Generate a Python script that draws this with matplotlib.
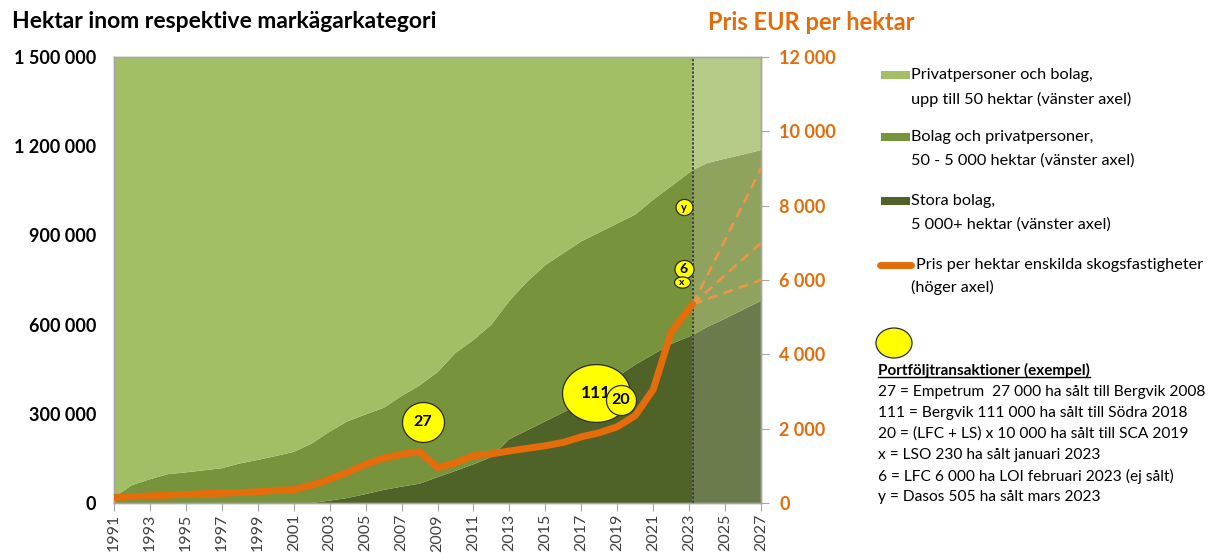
import numpy as np
import matplotlib.pyplot as plt
from matplotlib.path import Path
from matplotlib.patches import Rectangle, Ellipse
from matplotlib.lines import Line2D
from matplotlib.ticker import FuncFormatter

plt.rcParams['font.family'] = ['Lato', 'DejaVu Sans']

# Historik, tusen hektar per kategori (sista punkten = mars 2023)
years = list(range(1991, 2023)) + [2023.2]
privat_kha = [1480, 1440, 1420, 1403, 1397, 1390, 1383, 1367, 1355, 1342, 1328, 1300,
              1260, 1225, 1202, 1180, 1140, 1105, 1060, 995, 952, 900,
              820, 755, 700, 660, 620, 590, 560, 530, 480, 435, 380]
bolag_kha = [20, 60, 80, 97, 103, 110, 117, 133, 145, 158, 172, 200,
             232, 258, 268, 276, 305, 330, 353, 397, 418, 445,
             465, 500, 525, 535, 545, 530, 515, 505, 520, 530, 555]
stora_kha = [0, 0, 0, 0, 0, 0, 0, 0, 0, 0, 0, 0,
             8, 17, 30, 44, 55, 65, 87, 108, 130, 155,
             215, 245, 275, 305, 335, 380, 425, 465, 500, 535, 565]

# Prognos 2023-2027
prog_years = [2023.2, 2024, 2025, 2026, 2027]
prog_privat_kha = [380, 357, 342, 328, 313]
prog_bolag_kha = [555, 551, 538, 522, 507]
prog_stora_kha = [565, 592, 620, 650, 680]

# Pris EUR per hektar
price_eur = [150, 170, 190, 210, 230, 250, 260, 280, 300, 340, 360, 480,
             640, 830, 1040, 1210, 1310, 1380, 950, 1080, 1270, 1320,
             1400, 1470, 1540, 1630, 1780, 1890, 2050, 2350, 3050, 4600, 5350]
price_2027 = [9000, 7000, 6000]

# Portföljtransaktioner (bubblor)
bubble_labels = ['27', '111', '20', '6', 'x', 'y']
bubble_year = [2008.2, 2017.8, 2019.2, 2022.7, 2022.6, 2022.7]
bubble_price = [2190, 2965, 2770, 6295, 5940, 7955]

leg_labels = [("Privatpersoner och bolag,", "upp till 50 hektar (vänster axel)"),
              ("Bolag och privatpersoner,", "50 - 5 000 hektar (vänster axel)"),
              ("Stora bolag,", "5 000+ hektar (vänster axel)")]
price_label = ("Pris per hektar enskilda skogsfastigheter", "(höger axel)")
deal_header = "Portföljtransaktioner (exempel)"
deal_lines = ["27 = Empetrum  27 000 ha sålt till Bergvik 2008",
              "111 = Bergvik 111 000 ha sålt till Södra 2018",
              "20 = (LFC + LS) x 10 000 ha sålt till SCA 2019",
              "x = LSO 230 ha sålt januari 2023",
              "6 = LFC 6 000 ha LOI februari 2023 (ej sålt)",
              "y = Dasos 505 ha sålt mars 2023"]

LIGHT, MID, DARK = '#A2BF65', '#77933C', '#4F6228'
LIGHT_F, MID_F, DARK_F = '#B5CB87', '#90A35E', '#6B7B4D'
ORANGE = '#E46C0A'
GREY = '#A6A6A6'

W, H = 1211, 553


def fpos(x, y):
    return x / W, 1 - y / H


fig = plt.figure(figsize=(W / 100, H / 100), dpi=100)
ax = fig.add_axes([114 / W, 50 / H, 647 / W, 446 / H])

k = 1000
ax.stackplot(years, np.array(stora_kha) * k, np.array(bolag_kha) * k, np.array(privat_kha) * k,
             colors=[DARK, MID, LIGHT], linewidth=0)
ax.stackplot(prog_years, np.array(prog_stora_kha) * k, np.array(prog_bolag_kha) * k,
             np.array(prog_privat_kha) * k, colors=[DARK_F, MID_F, LIGHT_F], linewidth=0)

ax.set_xlim(1991, 2027)
ax.set_ylim(0, 1500000)
ax.set_xticks(range(1991, 2028, 2))
ax.set_yticks(range(0, 1500001, 300000))
ax.yaxis.set_major_formatter(FuncFormatter(lambda v, p: f"{int(v):,}".replace(",", " ")))
ax.tick_params(axis='x', rotation=90, length=6, color=GREY, labelsize=11.5,
               labelcolor='#404040', pad=2)
ax.tick_params(axis='y', length=0, labelsize=13, pad=13)
for lab in ax.get_yticklabels():
    lab.set_fontweight('bold')

ax2 = ax.twinx()
ax2.set_ylim(0, 12000)
ax2.set_yticks(range(0, 12001, 2000))
ax2.yaxis.set_major_formatter(FuncFormatter(lambda v, p: f"{int(v):,}".replace(",", " ")))
ax2.tick_params(axis='y', length=6, color=GREY, labelsize=13, labelcolor=ORANGE, pad=7)
for lab in ax2.get_yticklabels():
    lab.set_fontweight('bold')
for a in (ax, ax2):
    for s in a.spines.values():
        s.set_color(GREY)
        s.set_linewidth(1)

ax2.axvline(prog_years[0], color='#333333', ls=(0, (1.5, 1)), lw=1.2, zorder=2)

# prognoslinjer
for end in price_2027:
    ax2.plot([years[-1], 2027], [price_eur[-1], end], color='#F79646', ls=(0, (4, 2.5)),
             lw=1.8, alpha=0.9, zorder=3)
ax2.plot(years, price_eur, color=ORANGE, lw=5, solid_capstyle='round',
         solid_joinstyle='round', zorder=4)

# bubblor
diam_px = [42, 68, 30, 19, 16, 17]
aspect = [0.95, 0.85, 1.0, 0.95, 0.7, 0.95]
fsize = [11.5, 12.5, 11.5, 10, 7.5, 8]
for i, lab in enumerate(bubble_labels):
    t = np.linspace(0, 2 * np.pi, 90)
    mk = Path(np.column_stack([np.cos(t), aspect[i] * np.sin(t)]), closed=True)
    ax2.scatter([bubble_year[i]], [bubble_price[i]], s=(diam_px[i] * 0.72) ** 2, marker=mk,
                facecolor='#FFFF00', edgecolor='#2b2b2b', linewidth=0.9, zorder=5 + 2 * i)
    ax2.text(bubble_year[i], bubble_price[i], lab, ha='center', va='center',
             fontsize=fsize[i], fontweight='bold', zorder=6 + 2 * i)

# rubriker
fig.text(*fpos(12, 22), "Hektar inom respektive markägarkategori", fontsize=16.5,
         fontweight='bold', va='center', ha='left')
fig.text(*fpos(708, 22), "Pris EUR per hektar", fontsize=17, fontweight='bold',
         color=ORANGE, va='center', ha='left')

# legend
leg_y = [75, 137, 201]
for (l1, l2), y, c in zip(leg_labels, leg_y, [LIGHT, MID, DARK]):
    x0, y0 = fpos(881, y + 4)
    fig.add_artist(Rectangle((x0, y0), 29 / W, 8 / H, transform=fig.transFigure,
                             facecolor=c, edgecolor='none'))
    fig.text(*fpos(911, y), l1, fontsize=11.7, va='center')
    fig.text(*fpos(911, y + 24), l2, fontsize=11.7, va='center')

fig.add_artist(Line2D([880 / W, 911 / W], [1 - 265 / H] * 2, transform=fig.transFigure,
                      color=ORANGE, lw=5, solid_capstyle='round'))
fig.text(*fpos(916, 265), price_label[0], fontsize=11.7, va='center')
fig.text(*fpos(911, 287), price_label[1], fontsize=11.7, va='center')

fig.add_artist(Ellipse(fpos(894, 343), 36 / W, 30 / H, transform=fig.transFigure,
                       facecolor='#FFFF00', edgecolor='#2b2b2b', lw=0.9))
hdr = fig.text(*fpos(878, 370), deal_header, fontsize=11, fontweight='bold', va='center')
for i, line in enumerate(deal_lines):
    fig.text(*fpos(878, 392 + 21 * i), line, fontsize=11.2, va='center')

fig.canvas.draw()
bb = hdr.get_window_extent().transformed(fig.transFigure.inverted())
fig.add_artist(Line2D([bb.x0, bb.x1], [bb.y0 + 1 / H] * 2, transform=fig.transFigure,
                      color='black', lw=1))

fig.savefig('out.png', dpi=100)
